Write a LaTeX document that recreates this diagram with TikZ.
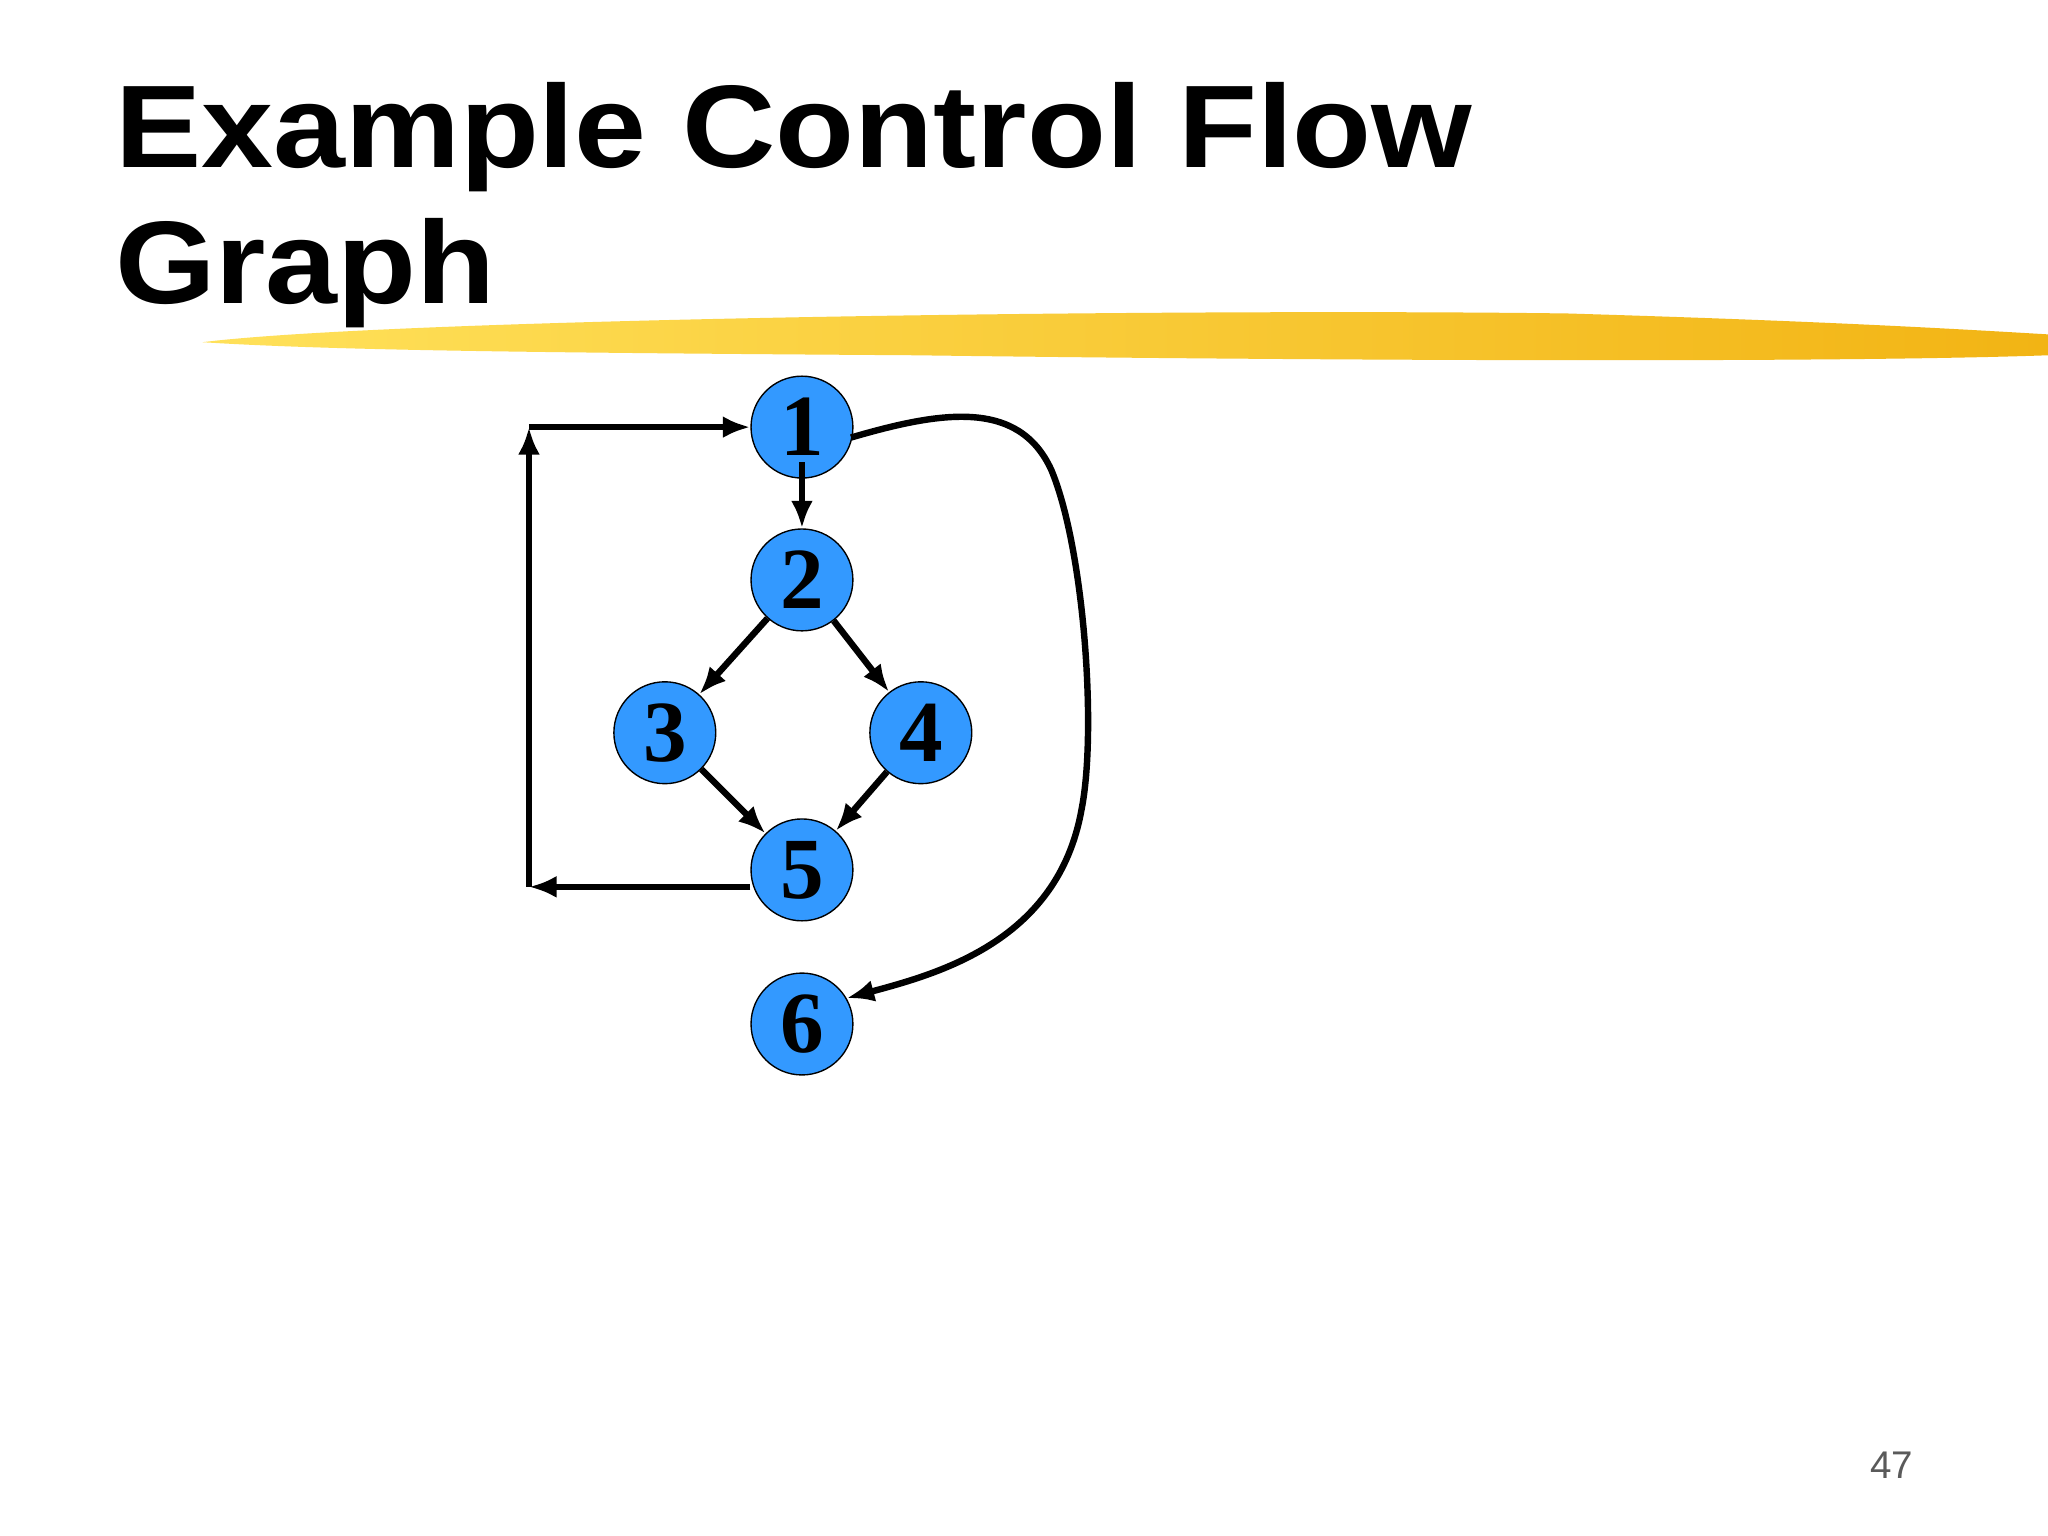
\documentclass[tikz,border=0pt]{standalone}
\usepackage{fontspec}
\setmainfont{Liberation Serif}
\newfontfamily\titlefont{Liberation Sans}
\usetikzlibrary{arrows.meta}
\begin{document}
\begin{tikzpicture}[x=0.05cm,y=-0.05cm,
  vtx/.style={circle,draw=black,line width=1.5pt,fill={rgb,255:red,51;green,153;blue,255},minimum size=78*0.05cm,inner sep=0pt,font=\fontsize{95}{95}\selectfont\bfseries},
  edge/.style={line width=7pt,-{Latex[length=30pt,width=24pt]}},
  ttl/.style={anchor=base west,inner sep=0pt,xscale=1.1,transform shape,font=\titlefont\bfseries\fontsize{128}{128}\selectfont}]
\useasboundingbox (0,0) rectangle (1568,1176);
\fill[white] (0,0) rectangle (1568,1176);
% title
\node[ttl] (t1) at (88,128) {Example Control Flow};
\node[ttl] (t2) at (88,232) {Graph};
% brush stroke
\shade[left color={rgb,255:red,255;green,225;blue,90},right color={rgb,255:red,242;green,180;blue,20}]
 (155,262) .. controls (300,244) and (900,236) .. (1200,240) .. controls (1400,246) and (1500,252) .. (1568,256)
 -- (1568,272) .. controls (1400,278) and (1000,276) .. (700,272) .. controls (400,270) and (250,268) .. (155,262) -- cycle;
% nodes
\node[vtx] (n1) at (614,327) {1};
\node[vtx] (n2) at (614,444) {2};
\node[vtx] (n3) at (509,561) {3};
\node[vtx] (n4) at (705,561) {4};
\node[vtx] (n5) at (614,666) {5};
\node[vtx] (n6) at (614,784) {6};
\coordinate (a) at (405,679);
\coordinate (b) at (405,327);
% edges
\draw[edge] (614,354) -- (n2);
\draw[edge] (n2) -- (n3);
\draw[edge] (n2) -- (n4);
\draw[edge] (n3) -- (n5);
\draw[edge] (n4) -- (n5);
\draw[edge] (n5.west |- a) -- (a);
\draw[edge] (a) -- (b);
\draw[edge] (b) -- (n1);
\draw[edge] (n1.east) ++(-2,8) .. controls (720,315) and (780,305) .. (805,360)
  .. controls (830,420) and (840,560) .. (828,620)
  .. controls (810,720) and (720,745) .. (n6.30);
% page number
\node[anchor=base east,inner sep=0pt,text={rgb,255:red,90;green,90;blue,90},font=\titlefont\fontsize{42}{42}\selectfont] (pg) at (1465,1132) {47};
\end{tikzpicture}
\end{document}
